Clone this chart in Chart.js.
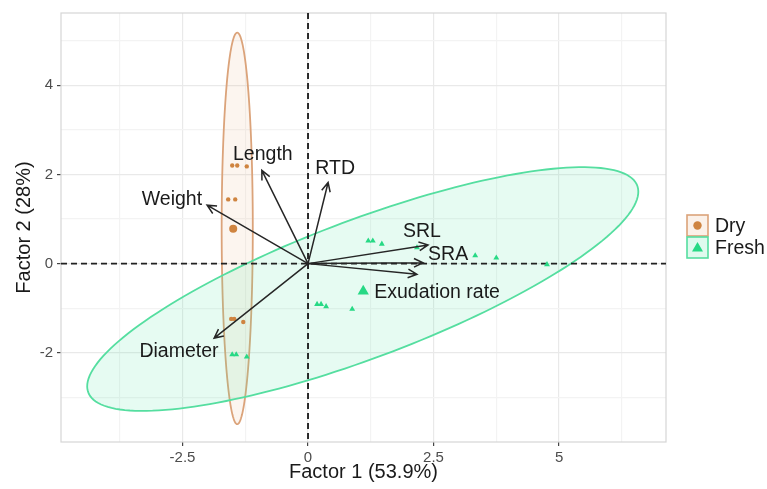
<!DOCTYPE html>
<html>
<head>
<meta charset="utf-8">
<script src="https://cdn.jsdelivr.net/npm/chart.js@4"></script>
<style>
  body { margin: 0; background: #fff; }
  #wrap { width: 767px; height: 489px; }
</style>
</head>
<body>
<div id="wrap"><canvas id="pcaChart" width="767" height="489"></canvas></div>
<script>
// individual scores
const dryX = [-1.51, -1.41, -1.22, -1.59, -1.45, -1.53, -1.47, -1.29];
const dryY = [2.20, 2.20, 2.18, 1.44, 1.44, -1.24, -1.24, -1.31];
const freshX = [1.20, 1.29, 1.47, 2.17, 3.33, 3.75, 4.76, 0.18, 0.26, 0.36, 0.88, -1.51, -1.43, -1.22];
const freshY = [0.51, 0.51, 0.44, 0.36, 0.18, 0.13, -0.02, -0.91, -0.91, -0.96, -1.02, -2.04, -2.04, -2.09];

// group centroids
const dryMean = [-1.49, 0.78];
const freshMean = [1.10, -0.62];

// confidence ellipses: center x, center y, semi-major, semi-minor, angle (deg)
const dryEllipse = [-1.41, 0.79, 4.39, 0.31, 90];
const freshEllipse = [1.09, -0.57, 5.94, 1.52, 23.3];

// variable loadings
const varNames = ['Weight', 'Length', 'RTD', 'SRL', 'SRA', 'Exudation rate', 'Diameter'];
const loadX = [-2.01, -0.92, 0.40, 2.39, 2.29, 2.17, -1.87];
const loadY = [1.31, 2.09, 1.82, 0.42, 0.02, -0.24, -1.67];
const labelX = [-2.71, -0.90, 0.54, 2.27, 2.79, 2.57, -2.57];
const labelY = [1.44, 2.44, 2.13, 0.71, 0.20, -0.64, -1.98];

// axes
const xTicks = [-3.75, -2.5, -1.25, 0, 1.25, 2.5, 3.75, 5, 6.25];
const xMajor = [-2.5, 0, 2.5, 5];
const yTicks = [-3, -2, -1, 0, 1, 2, 3, 4, 5];
const yMajor = [-2, 0, 2, 4];

const groups = ['Dry', 'Fresh'];

const FONT = "'Liberation Sans', Arial, sans-serif";
const dryCol = '#cf8440';
const dryLine = '#dba37a';
const dryFill = 'rgba(230, 170, 120, 0.12)';
const freshCol = '#27d985';
const freshLine = '#55dea0';
const freshFill = 'rgba(80, 225, 160, 0.14)';

function toPts(xs, ys) {
  return xs.map((x, i) => ({ x: x, y: ys[i] }));
}

function drawEllipse(ctx, xs, ys, e, stroke, fill) {
  const th = e[4] * Math.PI / 180;
  ctx.beginPath();
  for (let d = 0; d <= 360; d += 2) {
    const t = d * Math.PI / 180;
    const ex = e[0] + e[2] * Math.cos(t) * Math.cos(th) - e[3] * Math.sin(t) * Math.sin(th);
    const ey = e[1] + e[2] * Math.cos(t) * Math.sin(th) + e[3] * Math.sin(t) * Math.cos(th);
    const px = xs.getPixelForValue(ex), py = ys.getPixelForValue(ey);
    if (d === 0) ctx.moveTo(px, py); else ctx.lineTo(px, py);
  }
  ctx.closePath();
  ctx.fillStyle = fill;
  ctx.fill();
  ctx.lineWidth = 1.8;
  ctx.strokeStyle = stroke;
  ctx.stroke();
}

const biplot = {
  id: 'biplot',
  beforeDatasetsDraw(chart) {
    const ctx = chart.ctx, a = chart.chartArea;
    const xs = chart.scales.x, ys = chart.scales.y;
    ctx.save();
    // panel border
    ctx.strokeStyle = '#d6d6d6';
    ctx.lineWidth = 1.2;
    ctx.strokeRect(a.left, a.top, a.right - a.left, a.bottom - a.top);
    ctx.beginPath();
    ctx.rect(a.left, a.top, a.right - a.left, a.bottom - a.top);
    ctx.clip();
    drawEllipse(ctx, xs, ys, dryEllipse, dryLine, dryFill);
    drawEllipse(ctx, xs, ys, freshEllipse, freshLine, freshFill);
    // zero lines
    ctx.setLineDash([6, 4]);
    ctx.strokeStyle = '#222';
    ctx.lineWidth = 1.9;
    ctx.beginPath();
    ctx.moveTo(xs.getPixelForValue(0), a.top);
    ctx.lineTo(xs.getPixelForValue(0), a.bottom);
    ctx.moveTo(a.left, ys.getPixelForValue(0));
    ctx.lineTo(a.right, ys.getPixelForValue(0));
    ctx.stroke();
    ctx.restore();
  },
  afterDatasetsDraw(chart) {
    const ctx = chart.ctx;
    const xs = chart.scales.x, ys = chart.scales.y;
    const ox = xs.getPixelForValue(0), oy = ys.getPixelForValue(0);
    ctx.save();
    ctx.strokeStyle = '#262626';
    ctx.lineWidth = 1.5;
    varNames.forEach((name, i) => {
      const tx = xs.getPixelForValue(loadX[i]), ty = ys.getPixelForValue(loadY[i]);
      const ang = Math.atan2(ty - oy, tx - ox);
      const h = 10, spread = Math.PI / 7;
      ctx.beginPath();
      ctx.moveTo(ox, oy);
      ctx.lineTo(tx, ty);
      ctx.moveTo(tx - h * Math.cos(ang - spread), ty - h * Math.sin(ang - spread));
      ctx.lineTo(tx, ty);
      ctx.lineTo(tx - h * Math.cos(ang + spread), ty - h * Math.sin(ang + spread));
      ctx.stroke();
    });
    ctx.fillStyle = '#1a1a1a';
    ctx.font = '19.5px ' + FONT;
    ctx.textAlign = 'center';
    ctx.textBaseline = 'middle';
    varNames.forEach((name, i) => {
      ctx.fillText(name, xs.getPixelForValue(labelX[i]), ys.getPixelForValue(labelY[i]));
    });

    // legend
    const lx = 687, ly = 215, bs = 21;
    const keys = [
      { line: dryLine, fill: 'rgba(230, 170, 120, 0.16)', col: dryCol, shape: 'circle' },
      { line: freshLine, fill: 'rgba(80, 225, 160, 0.18)', col: freshCol, shape: 'triangle' }
    ];
    keys.forEach((k, i) => {
      const y0 = ly + i * (bs + 1);
      ctx.fillStyle = k.fill;
      ctx.fillRect(lx, y0, bs, bs);
      ctx.strokeStyle = k.line;
      ctx.lineWidth = 1.6;
      ctx.strokeRect(lx, y0, bs, bs);
      const cx = lx + bs / 2, cy = y0 + bs / 2;
      ctx.fillStyle = k.col;
      ctx.beginPath();
      if (k.shape === 'circle') {
        ctx.arc(cx, cy, 4.2, 0, Math.PI * 2);
      } else {
        ctx.moveTo(cx, cy - 5.5);
        ctx.lineTo(cx + 5.5, cy + 4);
        ctx.lineTo(cx - 5.5, cy + 4);
        ctx.closePath();
      }
      ctx.fill();
      ctx.fillStyle = '#1a1a1a';
      ctx.font = '19.5px ' + FONT;
      ctx.textAlign = 'left';
      ctx.fillText(groups[i], lx + bs + 7, cy + 1);
    });
    ctx.restore();
  }
};

const ctx = document.getElementById('pcaChart').getContext('2d');
const pcaChart = new Chart(ctx, {
  type: 'scatter',
  data: {
    datasets: [
      {
        label: groups[0],
        data: toPts(dryX, dryY),
        backgroundColor: dryCol,
        borderWidth: 0,
        pointStyle: 'circle',
        pointRadius: 2.2
      },
      {
        label: groups[1],
        data: toPts(freshX, freshY),
        backgroundColor: freshCol,
        borderWidth: 0,
        pointStyle: 'triangle',
        pointRadius: 3.4
      },
      {
        label: groups[0] + ' mean',
        data: [{ x: dryMean[0], y: dryMean[1] }],
        backgroundColor: dryCol,
        borderWidth: 0,
        pointStyle: 'circle',
        pointRadius: 4
      },
      {
        label: groups[1] + ' mean',
        data: [{ x: freshMean[0], y: freshMean[1] }],
        backgroundColor: freshCol,
        borderWidth: 0,
        pointStyle: 'triangle',
        pointRadius: 6.5
      }
    ]
  },
  options: {
    responsive: false,
    animation: false,
    events: [],
    layout: { padding: { top: 9, right: 101, left: 0, bottom: 0 } },
    plugins: {
      legend: { display: false },
      tooltip: { enabled: false }
    },
    scales: {
      x: {
        type: 'linear',
        min: -4.92,
        max: 7.13,
        afterBuildTicks: s => { s.ticks = xTicks.map(v => ({ value: v })); },
        afterFit: s => { s.height = 47; },
        border: { display: false },
        grid: {
          color: c => xMajor.includes(c.tick.value) ? '#e9e9e9' : '#f3f3f3',
          lineWidth: 1.2,
          tickLength: 4,
          tickColor: c => xMajor.includes(c.tick.value) ? '#444' : 'rgba(0,0,0,0)'
        },
        ticks: {
          autoSkip: false,
          maxRotation: 0,
          padding: 3,
          color: '#4d4d4d',
          font: { family: FONT, size: 15 },
          callback: v => xMajor.includes(v) ? String(v) : ''
        },
        title: {
          display: true,
          text: 'Factor 1 (53.9%)',
          color: '#1a1a1a',
          font: { family: FONT, size: 20 },
          padding: { top: 0, bottom: 5 }
        }
      },
      y: {
        type: 'linear',
        min: -4.0,
        max: 5.62,
        afterBuildTicks: s => { s.ticks = yTicks.map(v => ({ value: v })); },
        afterFit: s => { s.width = 61; },
        border: { display: false },
        grid: {
          color: c => yMajor.includes(c.tick.value) ? '#e9e9e9' : '#f3f3f3',
          lineWidth: 1.2,
          tickLength: 4,
          tickColor: c => yMajor.includes(c.tick.value) ? '#444' : 'rgba(0,0,0,0)'
        },
        ticks: {
          autoSkip: false,
          padding: 4,
          color: '#4d4d4d',
          font: { family: FONT, size: 15 },
          callback: v => yMajor.includes(v) ? String(v) : ''
        },
        title: {
          display: true,
          text: 'Factor 2 (28%)',
          color: '#1a1a1a',
          font: { family: FONT, size: 20 },
          padding: { top: 12, bottom: 0 }
        }
      }
    }
  },
  plugins: [biplot]
});
</script>
</body>
</html>
